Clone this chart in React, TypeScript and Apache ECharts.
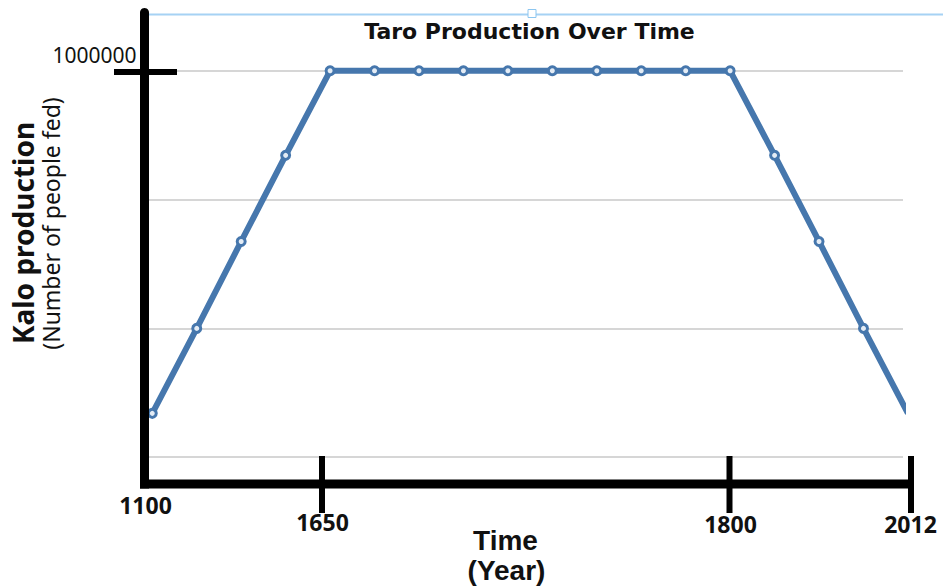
import React, { useEffect, useRef } from "react";
import * as echarts from "echarts";

// ---- data ----
const peopleFed = [
  113000, 333000, 558000, 781000, 1000000, 1000000, 1000000, 1000000, 1000000,
  1000000, 1000000, 1000000, 1000000, 1000000, 781000, 558000, 333000, 113000,
];
const yearTickLabels = ["1100", "1650", "1800", "2012"];
const yLabelValue = 1000000;
const yAxisMax = 1147000;
const yInterval = 1000000 / 3;
const chartTitle = "Taro Production Over Time";
const yTitle = "Kalo production";
const ySubTitle = "(Number of people fed)";
const xTitle = "Time";
const xSubTitle = "(Year)";

// ---- layout of the hand-drawn decorations (pixels) ----
const yearLabelPos = [
  [145.5, 505],
  [322.5, 522],
  [730.5, 524],
  [910.5, 524],
];
const tickXs = [322, 729.5, 911];

const LINE_COLOR = "#4677ad";
const TEXT_COLOR = "#111";

export default function App() {
  const ref = useRef<HTMLDivElement>(null);

  useEffect(() => {
    if (!ref.current) return;
    const chart = echarts.init(ref.current, undefined, { renderer: "svg" });

    const graphics: any[] = [];
    // top light-blue selection line and handle
    graphics.push({
      type: "line",
      z: 50,
      shape: { x1: 149, y1: 14.5, x2: 943, y2: 14.5 },
      style: { stroke: "#a6d2f4", lineWidth: 2 },
    });
    graphics.push({
      type: "rect",
      z: 51,
      shape: { x: 528, y: 9.5, width: 8, height: 8 },
      style: { fill: "#fff", stroke: "#8cc6f0", lineWidth: 1 },
    });
    // thick y axis
    graphics.push({
      type: "line",
      z: 100,
      shape: { x1: 144.5, y1: 12.5, x2: 144.5, y2: 488.5 },
      style: { stroke: "#000", lineWidth: 9 },
    });
    graphics.push({
      type: "circle",
      z: 100,
      shape: { cx: 144.5, cy: 12.5, r: 4.5 },
      style: { fill: "#000" },
    });
    // thick x axis
    graphics.push({
      type: "line",
      z: 100,
      shape: { x1: 140, y1: 484, x2: 913.5, y2: 484 },
      style: { stroke: "#000", lineWidth: 9 },
    });
    // x ticks crossing the axis
    tickXs.forEach((x) =>
      graphics.push({
        type: "line",
        z: 100,
        shape: { x1: x, y1: 456, x2: x, y2: 513 },
        style: { stroke: "#000", lineWidth: 6 },
      })
    );
    // y tick at 1,000,000
    graphics.push({
      type: "line",
      z: 100,
      shape: { x1: 114, y1: 72, x2: 177, y2: 72 },
      style: { stroke: "#000", lineWidth: 6 },
    });
    // y tick label
    graphics.push({
      type: "text",
      z: 100,
      x: 136.5,
      y: 55,
      style: {
        text: String(yLabelValue),
        fill: TEXT_COLOR,
        font: '21px "Noto Sans"',
        align: "right",
        verticalAlign: "middle",
      },
    });
    // year labels
    yearTickLabels.forEach((t, i) =>
      graphics.push({
        type: "text",
        z: 100,
        x: yearLabelPos[i][0],
        y: yearLabelPos[i][1],
        style: {
          text: t,
          fill: TEXT_COLOR,
          font: 'bold 23px "Noto Sans"',
          align: "center",
          verticalAlign: "middle",
        },
      })
    );
    // title
    graphics.push({
      type: "text",
      z: 100,
      x: 529.5,
      y: 31,
      style: {
        text: chartTitle,
        fill: TEXT_COLOR,
        font: 'bold 22px "DejaVu Sans"',
        align: "center",
        verticalAlign: "middle",
      },
    });
    // x axis titles
    graphics.push({
      type: "text",
      z: 100,
      x: 505.5,
      y: 540,
      style: {
        text: xTitle,
        fill: TEXT_COLOR,
        font: 'bold 28px "Liberation Sans"',
        align: "center",
        verticalAlign: "middle",
      },
    });
    graphics.push({
      type: "text",
      z: 100,
      x: 506.5,
      y: 570,
      style: {
        text: xSubTitle,
        fill: TEXT_COLOR,
        font: 'bold 28px "Liberation Sans"',
        align: "center",
        verticalAlign: "middle",
      },
    });
    // y axis titles (rotated)
    graphics.push({
      type: "text",
      z: 100,
      x: 23,
      y: 233,
      rotation: Math.PI / 2,
      style: {
        text: yTitle,
        fill: TEXT_COLOR,
        font: 'bold 28px "Noto Sans"',
        align: "center",
        verticalAlign: "middle",
      },
    });
    graphics.push({
      type: "text",
      z: 100,
      x: 50.5,
      y: 223.5,
      rotation: Math.PI / 2,
      style: {
        text: ySubTitle,
        fill: TEXT_COLOR,
        font: '23px "Noto Sans"',
        align: "center",
        verticalAlign: "middle",
      },
    });

    chart.setOption({
      animation: false,
      backgroundColor: "#fff",
      grid: { left: 145, right: 40, top: 14, bottom: 131 },
      xAxis: {
        type: "value",
        min: -0.164,
        max: 16.889,
        axisLine: { show: false },
        axisTick: { show: false },
        axisLabel: { show: false },
        splitLine: { show: false },
      },
      yAxis: {
        type: "value",
        min: 0,
        max: yAxisMax,
        interval: yInterval,
        axisLine: { show: false },
        axisTick: { show: false },
        axisLabel: { show: false },
        splitLine: {
          showMaxLine: false,
          lineStyle: {
            color: ["#d6d6d6", "#d6d6d6", "#d6d6d6", "#d6d6d6", "rgba(0,0,0,0)"],
            width: 2,
          },
        },
      },
      series: [
        {
          type: "line",
          data: peopleFed.map((v, i) => [i, v]),
          clip: true,
          symbol: "circle",
          symbolSize: 8,
          lineStyle: { color: LINE_COLOR, width: 6 },
          itemStyle: { color: "#e4ecf5", borderColor: LINE_COLOR, borderWidth: 3 },
          z: 2,
        },
      ],
      graphic: graphics,
    });

    return () => chart.dispose();
  }, []);

  return (
    <div
      ref={ref}
      style={{ position: "fixed", left: 0, top: 0, width: 943, height: 588 }}
    />
  );
}
